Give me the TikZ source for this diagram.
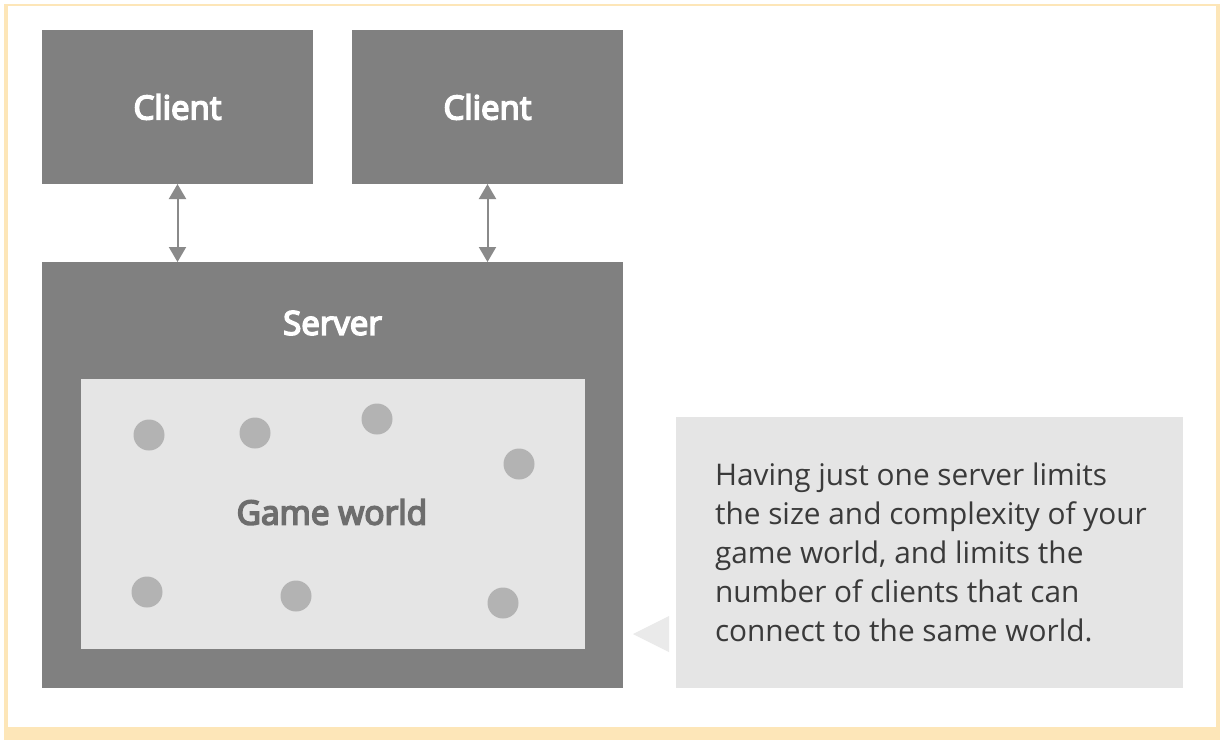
\documentclass[tikz,border=0pt]{standalone}
\usepackage{fontspec}
\setmainfont{Open Sans}
\newfontfamily\headfont{Open Sans}[FakeBold=5]
\usetikzlibrary{arrows.meta}

\definecolor{boxgray}{HTML}{808080}
\definecolor{worldgray}{HTML}{E5E5E5}
\definecolor{dotgray}{HTML}{B3B3B3}
\definecolor{linkgray}{HTML}{8A8A8A}
\definecolor{notetext}{HTML}{3A3A3A}
\definecolor{frameyellow}{HTML}{FDE6B8}

\begin{document}
\begin{tikzpicture}[x=1pt,y=-1pt,
    box/.style={fill=boxgray, inner sep=0pt, outer sep=0pt,
      minimum width=271pt, minimum height=154pt},
    head/.style={text=white, font=\headfont\fontsize{33}{40}\selectfont},
    dot/.style={circle, fill=dotgray, inner sep=0pt, minimum size=31pt},
    link/.style={linkgray, line width=2pt,
      {Triangle[length=15pt,width=17pt]}-{Triangle[length=15pt,width=17pt]}}]
      \useasboundingbox (0,0) rectangle (1220,740);

      % frame
      \fill[frameyellow] (4,4) rectangle (1220,740);
      \fill[white] (8,6) rectangle (1216,727);

      % clients
      \node[box, head] (client1) at (177.5,107) {Client};
      \node[box, head] (client2) at (487.5,107) {Client};

      % server
      \node[box, minimum width=581pt, minimum height=426pt] (server) at (332.5,475) {};
      \node[head] (serverlabel) at (332.5,323) {Server};

      % game world
      \node[fill=worldgray, inner sep=0pt, minimum width=504pt, minimum height=270pt] (world) at (333,514) {};
      \foreach \x/\y in {149/435, 255/433, 377/419, 519/464, 147/592, 296/596, 503/603}
        \node[dot] (dot-\x) at (\x,\y) {};
      \node[text=boxgray!85!black, font=\headfont\fontsize{33.5}{40}\selectfont] (worldlabel) at (332,512) {Game world};

      % links
      \draw[link] (client1.south) -- (server.north -| client1.south);
      \draw[link] (client2.south) -- (server.north -| client2.south);

      % note
      \node[fill=worldgray, inner sep=0pt, minimum width=507pt, minimum height=271pt] (note) at (929.5,552.5) {};
      \node[anchor=west, inner sep=0pt, align=left, text=notetext,
        font=\fontsize{29.8}{39}\selectfont] (notetext) at ([xshift=39pt]note.west)
        {Having just one server limits\\
         the size and complexity of your\\
         game world, and limits the\\
         number of clients that can\\
         connect to the same world.};
      \fill[worldgray!80!white] (669,616) -- (669,652) -- (633,634) -- cycle;
\end{tikzpicture}
\end{document}
